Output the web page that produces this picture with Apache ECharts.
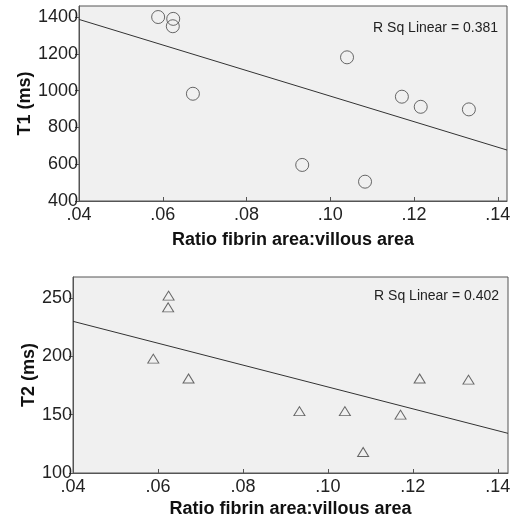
<!DOCTYPE html>
<html>
<head>
<meta charset="utf-8">
<script src="https://cdn.jsdelivr.net/npm/echarts@6/dist/echarts.min.js"></script>
<style>
  html, body { margin: 0; padding: 0; background: #fff; }
  #chart { width: 518px; height: 527px; }
</style>
</head>
<body>
<div id="chart"></div>
<script>
// fibrin ratio per subject (same subjects in both panels)
var ratio = [0.0589, 0.0625, 0.0624, 0.0672, 0.1040, 0.1171, 0.1216, 0.1331, 0.0933, 0.1083]
var t1 = [1400, 1390, 1350, 983, 1181, 967, 912, 898, 596, 505]
var t2 = [198, 252, 242, 181, 153, 150, 181, 180, 153, 118]
// fit line end points
var fitT1 = [[0.04, 1387], [0.1422, 677]]
var fitT2 = [[0.04, 230], [0.1424, 134]]

function pairs (xs, ys) {
  return xs.map(function (x, i) { return [x, ys[i]] })
}

var font = 'Arial, "Liberation Sans", sans-serif'
var xAxisBase = function (idx, max, gap) {
  return {
    type: 'value', gridIndex: idx, min: 0.04, max: max, interval: 0.02,
    name: 'Ratio fibrin area:villous area', nameLocation: 'middle', nameGap: gap,
    nameMoveOverlap: false,
    nameTextStyle: { fontFamily: font, fontWeight: 'bold', fontSize: 18, color: '#111' },
    axisLine: { lineStyle: { color: '#555' } },
    axisTick: { inside: true, length: 4, lineStyle: { color: '#555' } },
    axisLabel: {
      fontFamily: font, fontSize: 18, color: '#222', margin: 5, showMaxLabel: false,
      formatter: function (v) { return v.toFixed(2).replace(/^0/, '') }
    },
    splitLine: { show: false }
  }
}
var yAxisBase = function (idx, name, min, max, interval, gap) {
  return {
    type: 'value', gridIndex: idx, min: min, max: max, interval: interval,
    name: name, nameLocation: 'middle', nameGap: gap, nameRotate: 90,
    nameMoveOverlap: false,
    nameTextStyle: { fontFamily: font, fontWeight: 'bold', fontSize: 18, color: '#111' },
    axisLine: { show: true, lineStyle: { color: '#555' } },
    axisTick: { show: true, length: 4, lineStyle: { color: '#555' } },
    axisLabel: {
      fontFamily: font, fontSize: 18, color: '#222', margin: 1, showMaxLabel: false,
      formatter: function (v) { return String(v) }
    },
    splitLine: { show: false }
  }
}

var chart = echarts.init(document.getElementById('chart'))
chart.setOption({
  animation: false,
  grid: [
    { left: 79, right: 11, top: 6, height: 195, show: true, backgroundColor: '#f0f0f0', borderColor: '#555' },
    { left: 73, right: 10, top: 277, height: 196, show: true, backgroundColor: '#f0f0f0', borderColor: '#555' }
  ],
  xAxis: [xAxisBase(0, 0.1422, 30), xAxisBase(1, 0.1424, 27)],
  yAxis: [
    yAxisBase(0, 'T1 (ms)', 400, 1460, 200, 45),
    yAxisBase(1, 'T2 (ms)', 100, 268, 50, 35)
  ],
  graphic: [
    { type: 'text', right: 20, top: 21, style: { text: 'R Sq Linear = 0.381', font: '14px ' + font, fill: '#222' } },
    { type: 'text', right: 19, top: 289, style: { text: 'R Sq Linear = 0.402', font: '14px ' + font, fill: '#222' } }
  ],
  series: [
    {
      type: 'line', xAxisIndex: 0, yAxisIndex: 0, data: fitT1, symbol: 'none',
      lineStyle: { color: '#333', width: 1 }, silent: true
    },
    {
      type: 'scatter', xAxisIndex: 0, yAxisIndex: 0, data: pairs(ratio, t1),
      symbol: 'circle', symbolSize: 13,
      itemStyle: { color: 'rgba(0,0,0,0)', borderColor: '#444', borderWidth: 1 }
    },
    {
      type: 'line', xAxisIndex: 1, yAxisIndex: 1, data: fitT2, symbol: 'none',
      lineStyle: { color: '#333', width: 1 }, silent: true
    },
    {
      type: 'scatter', xAxisIndex: 1, yAxisIndex: 1, data: pairs(ratio, t2),
      symbol: 'triangle', symbolSize: [11, 9],
      itemStyle: { color: 'rgba(0,0,0,0)', borderColor: '#444', borderWidth: 1 }
    }
  ]
})
</script>
</body>
</html>
